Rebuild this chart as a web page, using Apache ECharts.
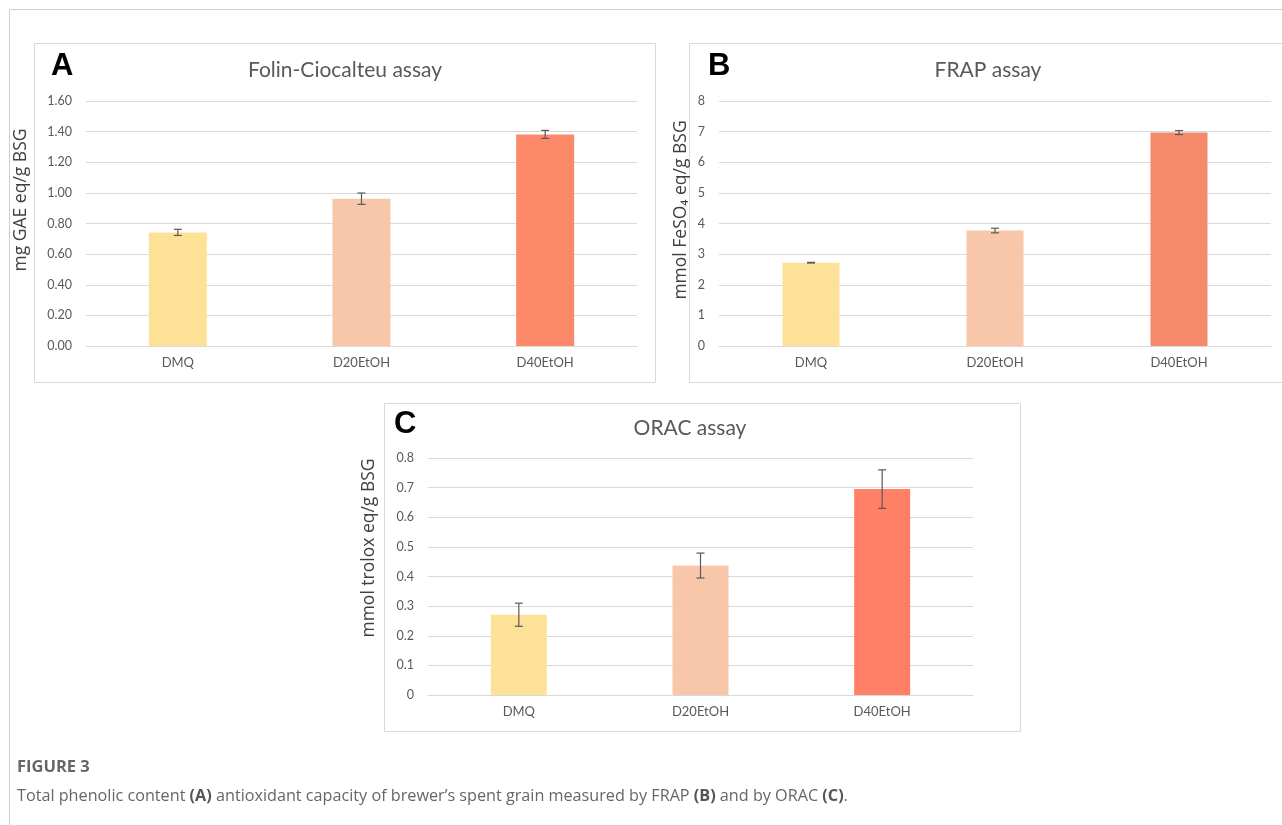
<!DOCTYPE html>
<html>
<head>
<meta charset="utf-8">
<script src="https://cdn.jsdelivr.net/npm/echarts@6/dist/echarts.min.js"></script>
<style>
html,body{margin:0;padding:0;background:#fff;}
#chart{width:1282px;height:825px;}
</style>
</head>
<body>
<div id="chart"></div>
<script>
// ---- data ----
const categories = ['DMQ', 'D20EtOH', 'D40EtOH'];
const folinValues = [0.742, 0.962, 1.382];
const folinErrors = [0.02, 0.037, 0.026];
const frapValues = [2.72, 3.77, 6.97];
const frapErrors = [0.012, 0.075, 0.065];
const oracValues = [0.271, 0.437, 0.695];
const oracErrors = [0.039, 0.042, 0.065];
const axisNames = ['mg GAE eq/g BSG', 'mmol FeSO\u2084 eq/g BSG', 'mmol trolox eq/g BSG'];
const panelTitles = ['Folin-Ciocalteu assay', 'FRAP assay', 'ORAC assay'];
const panelLetters = ['A', 'B', 'C'];

const colorsA = ['#FCE197', '#F8C7A9', '#FC8A6A'];
const colorsB = ['#FCE197', '#F8C7A9', '#F58A6B'];
const colorsC = ['#FCE197', '#F8C7A9', '#FF7F67'];

const FONT = 'Lato';
const TXT = '#595959';
const GRIDC = '#d9d9d9';

const chart = echarts.init(document.getElementById('chart'));

function xAxisDef(gi) {
  return {
    type: 'category', gridIndex: gi, data: categories,
    axisLine: {lineStyle: {color: GRIDC, width: 1}},
    axisTick: {show: false},
    axisLabel: {color: TXT, fontFamily: FONT, fontSize: 13, margin: 10}
  };
}
function yAxisDef(gi, max, interval, fmt) {
  return {
    type: 'value', gridIndex: gi, min: 0, max: max, interval: interval,
    axisLine: {show: false}, axisTick: {show: false},
    splitLine: {lineStyle: {color: GRIDC, width: 1}},
    axisLabel: {color: TXT, fontFamily: FONT, fontSize: 12.5, margin: 14, formatter: fmt}
  };
}
function barSeries(gi, values, colors, bw) {
  return {
    type: 'bar', xAxisIndex: gi, yAxisIndex: gi, barWidth: bw,
    data: values.map((v, i) => ({value: v, itemStyle: {color: colors[i]}})),
    silent: true, animation: false
  };
}
function errSeries(gi, values, errors) {
  return {
    type: 'custom', xAxisIndex: gi, yAxisIndex: gi, silent: true, animation: false,
    data: values.map((v, i) => [i, v, errors[i]]),
    renderItem: function (params, api) {
      const x = api.value(0), y = api.value(1), e = api.value(2);
      const t = api.coord([x, y + e]);
      const b = api.coord([x, y - e]);
      const hw = 4;
      const st = {stroke: '#595959', lineWidth: 1.2};
      return {
        type: 'group', children: [
          {type: 'line', shape: {x1: t[0], y1: t[1], x2: b[0], y2: b[1]}, style: st},
          {type: 'line', shape: {x1: t[0] - hw, y1: t[1], x2: t[0] + hw, y2: t[1]}, style: st},
          {type: 'line', shape: {x1: b[0] - hw, y1: b[1], x2: b[0] + hw, y2: b[1]}, style: st}
        ]
      };
    },
    z: 5
  };
}

const fmt2 = v => v.toFixed(2);
const fmt0 = v => String(v);
const fmt1 = v => (v === 0 ? '0' : v.toFixed(1));

function box(x, y, w, h) {
  return {type: 'rect', shape: {x: x + 0.5, y: y + 0.5, width: w, height: h},
    style: {fill: '#fff', stroke: '#d9d9d9', lineWidth: 1}, z: -10, silent: true};
}
function letter(x, y, t) {
  return {type: 'text', x: x, y: y, style: {text: t, fill: '#000', font: 'bold 31px "Liberation Sans", Arial',
    textAlign: 'left', textVerticalAlign: 'middle'}, z: 10};
}
function title(x, y, t) {
  return {type: 'text', x: x, y: y, style: {text: t, fill: TXT, font: '21px Lato',
    textAlign: 'center', textVerticalAlign: 'middle'}, z: 10};
}
function axisName(x, y, t) {
  return {type: 'text', x: x, y: y, rotation: Math.PI / 2,
    style: {text: t, fill: '#404040', font: '17.5px "Open Sans"', textAlign: 'center', textVerticalAlign: 'middle'}, z: 10};
}

const option = {
  animation: false,
  grid: [
    {left: 86, top: 101, width: 551, height: 245},
    {left: 719, top: 101, width: 552, height: 245},
    {left: 428, top: 458, width: 545, height: 237}
  ],
  xAxis: [xAxisDef(0), xAxisDef(1), xAxisDef(2)],
  yAxis: [
    yAxisDef(0, 1.6, 0.2, fmt2),
    yAxisDef(1, 8, 1, fmt0),
    yAxisDef(2, 0.8, 0.1, fmt1)
  ],
  series: [
    barSeries(0, folinValues, colorsA, 58),
    errSeries(0, folinValues, folinErrors),
    barSeries(1, frapValues, colorsB, 57),
    errSeries(1, frapValues, frapErrors),
    barSeries(2, oracValues, colorsC, 56),
    errSeries(2, oracValues, oracErrors)
  ],
  graphic: [
    // outer frame
    {type: 'line', shape: {x1: 9.5, y1: 9.5, x2: 1282, y2: 9.5}, style: {stroke: '#cfcfcf', lineWidth: 1}, z: -20},
    {type: 'line', shape: {x1: 9.5, y1: 9.5, x2: 9.5, y2: 825}, style: {stroke: '#cfcfcf', lineWidth: 1}, z: -20},
    box(34, 43, 621, 339),
    box(689, 43, 600, 339),
    box(384, 403, 636, 328),
    letter(51, 66, panelLetters[0]),
    letter(708, 66, panelLetters[1]),
    letter(394, 424, panelLetters[2]),
    title(345, 70, panelTitles[0]),
    title(988, 70, panelTitles[1]),
    title(690, 428, panelTitles[2]),
    axisName(21, 200, axisNames[0]),
    axisName(681, 210, axisNames[1]),
    axisName(369, 548, axisNames[2]),
    {type: 'text', x: 17, y: 767, style: {text: 'FIGURE 3', fill: '#666666',
      font: 'bold 16.5px "Open Sans"', textVerticalAlign: 'middle'}},
    {type: 'text', x: 17, y: 796, style: {
      text: 'Total phenolic content {b|(A)} antioxidant capacity of brewer\u2019s spent grain measured by FRAP {b|(B)} and by ORAC {b|(C)}.',
      fill: '#666666', font: '16.2px "Open Sans"', textVerticalAlign: 'middle',
      rich: {b: {fontWeight: 'bold', fontFamily: 'Open Sans', fontSize: 16.2, fill: '#555555'}}
    }}
  ]
};
chart.setOption(option);
</script>
</body>
</html>
